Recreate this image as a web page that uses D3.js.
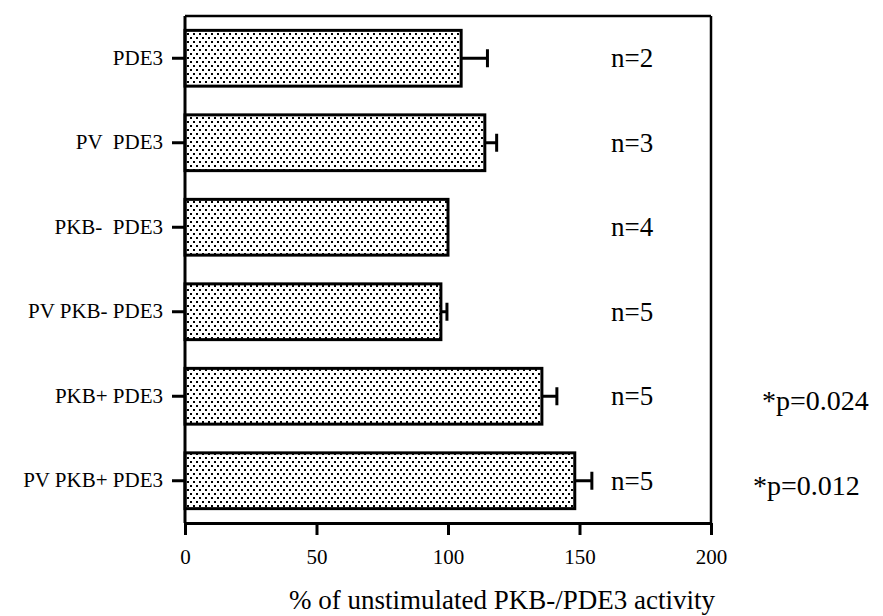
<!DOCTYPE html>
<html>
<head>
<meta charset="utf-8">
<script src="https://cdn.jsdelivr.net/npm/d3@7"></script>
<style>
  html, body { margin: 0; padding: 0; background: #fff; }
  svg { display: block; }
  text { font-family: "Liberation Serif", "DejaVu Serif", serif; fill: #000; }
</style>
</head>
<body>
<svg id="chart" width="883" height="616"></svg>
<script>
// ---- data ----
const categories = ["PDE3", "PV  PDE3", "PKB-  PDE3", "PV PKB- PDE3", "PKB+ PDE3", "PV PKB+ PDE3"];
const values = [105, 114, 100, 97.3, 135.7, 148.2];
const errors = [10, 4.5, 0, 2.3, 5.7, 6.5];
const nLabels = ["n=2", "n=3", "n=4", "n=5", "n=5", "n=5"];
const pCategories = ["PKB+ PDE3", "PV PKB+ PDE3"];
const pLabels = ["*p=0.024", "*p=0.012"];
const xTicks = [0, 50, 100, 150, 200];
const xTitle = "% of unstimulated PKB-/PDE3 activity";

// ---- layout ----
const svg = d3.select("#chart");
const mLeft = 185, mRight = 711, mTop = 16, mBottom = 523;

const x = d3.scaleLinear().domain([0, 200]).range([mLeft, mRight]);
const y = d3.scaleBand().domain(categories).range([mTop, mBottom]).paddingInner(0.34).paddingOuter(0.17);

// dotted pattern
const defs = svg.append("defs");
const pat = defs.append("pattern")
  .attr("id", "dots").attr("patternUnits", "userSpaceOnUse")
  .attr("width", 6).attr("height", 8);
pat.append("rect").attr("width", 6).attr("height", 8).attr("fill", "#fff");
pat.append("rect").attr("x", 1).attr("y", 1).attr("width", 2).attr("height", 2).attr("fill", "#000");
pat.append("rect").attr("x", 4).attr("y", 5).attr("width", 2).attr("height", 2).attr("fill", "#000");

// frame (top and right)
svg.append("line").attr("x1", mLeft).attr("x2", mRight).attr("y1", mTop).attr("y2", mTop)
  .attr("stroke", "#000").attr("stroke-width", 2.5);
svg.append("line").attr("x1", mRight).attr("x2", mRight).attr("y1", mTop).attr("y2", mBottom)
  .attr("stroke", "#000").attr("stroke-width", 2.5);

// bars
svg.append("g").selectAll("rect").data(categories).join("rect")
  .attr("x", x(0))
  .attr("y", d => y(d))
  .attr("width", (d, i) => x(values[i]) - x(0))
  .attr("height", y.bandwidth())
  .attr("fill", "url(#dots)")
  .attr("stroke", "#000").attr("stroke-width", 3);

// error bars
const eg = svg.append("g").attr("stroke", "#000").attr("stroke-width", 3);
categories.forEach((c, i) => {
  if (errors[i] <= 0) return;
  const cy = y(c) + y.bandwidth() / 2;
  eg.append("line").attr("x1", x(values[i])).attr("x2", x(values[i] + errors[i])).attr("y1", cy).attr("y2", cy);
  eg.append("line").attr("x1", x(values[i] + errors[i])).attr("x2", x(values[i] + errors[i])).attr("y1", cy - 9).attr("y2", cy + 9);
});

// y axis
const yAxis = svg.append("g").attr("transform", `translate(${mLeft},0)`)
  .call(d3.axisLeft(y).tickSize(13).tickPadding(9).tickSizeOuter(0));
yAxis.select(".domain").attr("stroke-width", 3).attr("d", `M0,${mTop}V${mBottom}`);
yAxis.selectAll(".tick line").attr("stroke-width", 3);
yAxis.selectAll(".tick text").style("font-size", "21px").style("white-space", "pre").attr("xml:space", "preserve");

// x axis
const xAxis = svg.append("g").attr("transform", `translate(0,${mBottom})`)
  .call(d3.axisBottom(x).tickValues(xTicks).tickSize(12).tickPadding(14).tickSizeOuter(0));
xAxis.select(".domain").attr("stroke-width", 3);
xAxis.selectAll(".tick line").attr("stroke-width", 3);
xAxis.selectAll(".tick text").style("font-size", "21px");

// x title
svg.append("text").attr("x", 502).attr("y", 609).attr("text-anchor", "middle")
  .style("font-size", "27px").text(xTitle);

// n labels
svg.append("g").selectAll("text").data(categories).join("text")
  .attr("x", x(162))
  .attr("y", d => y(d) + y.bandwidth() / 2 + 9)
  .style("font-size", "27px")
  .text((d, i) => nLabels[i]);

// p labels
svg.append("g").selectAll("text").data(pCategories).join("text")
  .attr("x", (d, i) => i === 0 ? 762 : 753)
  .attr("y", d => y(d) + y.bandwidth() / 2 + 14)
  .style("font-size", "28px")
  .text((d, i) => pLabels[i]);
</script>
</body>
</html>
